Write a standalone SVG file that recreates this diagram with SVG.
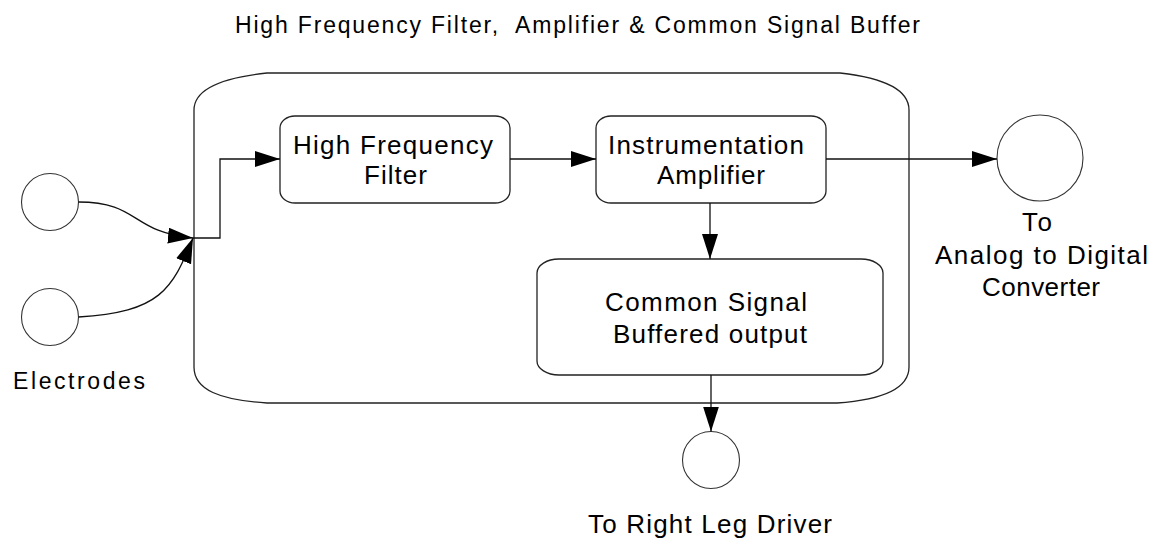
<svg xmlns="http://www.w3.org/2000/svg" width="1151" height="540" viewBox="0 0 1151 540">
<style>
text{font-family:"Liberation Sans",Arial,sans-serif;fill:#000}
.t{font-size:23px}
.n{font-size:26px}
.box{fill:#fff;stroke:#222;stroke-width:1.3}
.circ{fill:#fff;stroke:#333;stroke-width:1.1}
.ln{fill:none;stroke:#111;stroke-width:1.3}
</style>
<defs>
<marker id="ah" markerUnits="userSpaceOnUse" markerWidth="28" markerHeight="18" refX="25" refY="8" orient="auto">
<path d="M0,0 L25,8 L0,16 Z" fill="#000"/>
</marker>
</defs>
<rect width="1151" height="540" fill="#fff"/>
<text class="t" x="235" y="33" textLength="685" lengthAdjust="spacing" style="white-space:pre" xml:space="preserve">High Frequency Filter,  Amplifier &amp; Common Signal Buffer</text>

<g id="container">
<path class="box" d="M267,73 H840 C885,78 909,90 909,110 V367 C909,390 880,400 837,403 H267 C220,400 194,390 194,367 V110 C194,90 220,78 267,73 Z"/>
</g>

<g id="electrode1"><circle class="circ" cx="50" cy="202" r="28.5"/></g>
<g id="electrode2"><circle class="circ" cx="50" cy="317" r="28.5"/></g>
<text class="t" x="13" y="389" textLength="132" lengthAdjust="spacing">Electrodes</text>

<g id="hff">
<rect class="box" x="280" y="116" width="230" height="87" rx="15" ry="12"/>
<text class="n" x="293" y="154" textLength="200" lengthAdjust="spacing">High Frequency</text>
<text class="n" x="364" y="184" textLength="63" lengthAdjust="spacing">Filter</text>
</g>

<g id="ia">
<rect class="box" x="596" y="116" width="230" height="87" rx="15" ry="12"/>
<text class="n" x="608" y="154" textLength="196" lengthAdjust="spacing">Instrumentation</text>
<text class="n" x="657" y="184" textLength="108" lengthAdjust="spacing">Amplifier</text>
</g>

<g id="cs">
<rect class="box" x="537" y="259" width="346" height="116" rx="22" ry="14"/>
<text class="n" x="605" y="311" textLength="202" lengthAdjust="spacing">Common Signal</text>
<text class="n" x="613" y="343" textLength="194" lengthAdjust="spacing">Buffered output</text>
</g>

<g id="adc">
<circle class="circ" cx="1040" cy="158" r="43"/>
<text class="n" x="1022" y="231" textLength="30" lengthAdjust="spacing">To</text>
<text class="n" x="935" y="264" textLength="213" lengthAdjust="spacing">Analog to Digital</text>
<text class="n" x="982" y="296" textLength="118" lengthAdjust="spacing">Converter</text>
</g>

<g id="rld">
<circle class="circ" cx="711" cy="460" r="28.5"/>
<text class="n" x="588" y="533" textLength="244" lengthAdjust="spacing">To Right Leg Driver</text>
</g>

<g id="connectors">
<path class="ln" d="M78.5,202 C140,202 130,232 193,238" marker-end="url(#ah)"/>
<path class="ln" d="M78.5,317 C160,312 172,290 193,238" marker-end="url(#ah)"/>
<path class="ln" d="M193,238 H220 V159 H280" marker-end="url(#ah)"/>
<path class="ln" d="M510,159 H596" marker-end="url(#ah)"/>
<path class="ln" d="M826,159 H997" marker-end="url(#ah)"/>
<path class="ln" d="M710,203 V259" marker-end="url(#ah)"/>
<path class="ln" d="M711,375 V431.5" marker-end="url(#ah)"/>
</g>
</svg>
